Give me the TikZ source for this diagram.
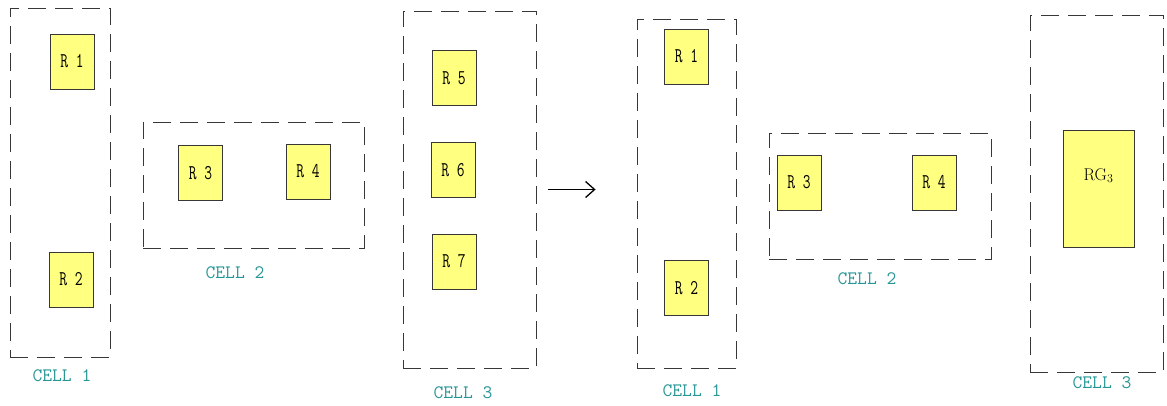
\documentclass[tikz,border=0pt]{standalone}
\usepackage{fontspec}
\usetikzlibrary{arrows.meta}
\definecolor{cellteal}{RGB}{40,150,150}
\definecolor{resfill}{RGB}{255,255,128}
\definecolor{edgegray}{RGB}{55,55,55}
\newcommand\narrowtt[1]{\scalebox{0.72}[1]{#1}}
\tikzset{
  cellbox/.style={draw=edgegray, line width=0.9pt, dash pattern=on 18pt off 9pt,
    rectangle, inner sep=0pt},
  resbox/.style={draw=edgegray, line width=1pt, fill=resfill, rectangle,
    inner sep=0pt, minimum width=44pt, minimum height=55pt,
    font=\ttfamily\fontsize{21}{24}\selectfont},
  celltag/.style={text=cellteal, inner sep=0pt, font=\ttfamily\fontsize{19}{22}\selectfont},
}
\begin{document}
\begin{tikzpicture}[x=1pt, y=-1pt]
\useasboundingbox (0,0) rectangle (1167,405);

% ---- original grouping ----
\node[cellbox, minimum width=100pt, minimum height=349pt] (c1) at (60,182.5) {};
\node[resbox] (r1) at (72,61.5) {\narrowtt{R 1}};
\node[resbox] (r2) at (71,279.5) {\narrowtt{R 2}};
\node[celltag] (t1) at (62,376) {CELL 1};

\node[cellbox, minimum width=221pt, minimum height=126pt] (c2) at (253.5,185) {};
\node[resbox] (r3) at (200.5,173) {\narrowtt{R 3}};
\node[resbox] (r4) at (308,171.5) {\narrowtt{R 4}};
\node[celltag] (t2) at (235,273) {CELL 2};

\node[cellbox, minimum width=133pt, minimum height=357pt] (c3) at (469.5,189.5) {};
\node[resbox] (r5) at (454,78) {\narrowtt{R 5}};
\node[resbox] (r6) at (453,170) {\narrowtt{R 6}};
\node[resbox] (r7) at (454,261.5) {\narrowtt{R 7}};
\node[celltag] (t3) at (463,393) {CELL 3};

% ---- regrouped result ----
\node[cellbox, minimum width=99pt, minimum height=349pt] (d1) at (686.5,193.5) {};
\node[resbox] (s1) at (686.5,56.5) {\narrowtt{R 1}};
\node[resbox] (s2) at (686.5,288) {\narrowtt{R 2}};
\node[celltag] (u1) at (692,391) {CELL 1};

\node[cellbox, minimum width=222pt, minimum height=126pt] (d2) at (880,196) {};
\node[resbox] (s3) at (799,182.5) {\narrowtt{R 3}};
\node[resbox] (s4) at (934,182.5) {\narrowtt{R 4}};
\node[celltag] (u2) at (867,279) {CELL 2};

\node[cellbox, minimum width=133pt, minimum height=357pt] (d3) at (1096.5,193.5) {};
\node[resbox, minimum width=71pt, minimum height=117pt] (rg) at (1098.5,188.5) {};
\node[inner sep=0pt, font=\fontsize{17}{20}\selectfont] (rgt) at ([yshift=-46pt]rg.north) {RG$_3$};
\node[celltag] (u3) at (1102,383) {CELL 3};

% ---- transformation arrow ----
\draw[line width=1.3pt, -{Straight Barb[length=9pt, width=16pt]}, shorten <=12pt, shorten >=41pt]
  (c3.east) -- (c3.east -| d1.west);
\end{tikzpicture}
\end{document}
